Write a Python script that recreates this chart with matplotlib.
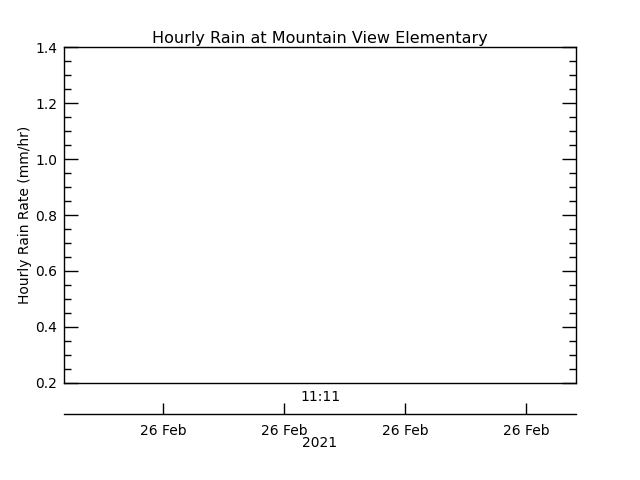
import matplotlib
matplotlib.use("Agg")
import matplotlib.pyplot as plt
from matplotlib.ticker import MultipleLocator

title = "Hourly Rain at Mountain View Elementary"
ylabel = "Hourly Rain Rate (mm/hr)"
y_min, y_max = 0.2, 1.4
y_major = 0.2
y_minor = 0.05
center_label = "11:11"
date_ticks = [0.818, 1.818, 2.818, 3.818]
date_labels = ["26 Feb", "26 Feb", "26 Feb", "26 Feb"]
x_min, x_max = 0.0, 4.23
year_label = "2021"

plt.rcParams['font.family'] = ['DejaVu Sans']
fig = plt.figure(figsize=(6.4, 4.8), dpi=100)
W, H = 640, 480
L, R, T, B = 64, 576, 47, 383
ax = fig.add_axes([L / W, 1 - B / H, (R - L) / W, (B - T) / H])
ax.set_ylim(y_min, y_max)
ax.set_xlim(x_min, x_max)
ax.yaxis.set_minor_locator(MultipleLocator(y_minor))
ax.set_yticks([round(y_min + i * y_major, 1) for i in range(7)])
ax.set_yticklabels([f"{y_min + i * y_major:.1f}" for i in range(7)])
ax.tick_params(axis='y', which='major', direction='in', length=10, width=1,
               right=True, left=True, labelsize=10, pad=5)
ax.tick_params(axis='y', which='minor', direction='in', length=5, width=1,
               right=True, left=True)
ax.set_xticks([])
for s in ax.spines.values():
    s.set_linewidth(1)
ax.set_title(title, fontsize=11.5, pad=3)
ax.set_ylabel(ylabel, fontsize=10, labelpad=2)
fig.text(0.5, 1 - 397 / H, center_label, ha='center', va='center', fontsize=10)

# date axis
yb = 414
ax2 = fig.add_axes([L / W, 1 - yb / H, (R - L) / W, 0.0001])
ax2.set_xlim(x_min, x_max)
for k in ['top', 'left', 'right']:
    ax2.spines[k].set_visible(False)
ax2.spines['bottom'].set_linewidth(1)
ax2.set_yticks([])
ax2.set_xticks(date_ticks)
ax2.set_xticklabels(date_labels)
ax2.tick_params(axis='x', direction='in', length=8, width=1, labelsize=10, pad=7)
fig.text(0.5, 1 - 443 / H, year_label, ha='center', va='center', fontsize=10)

fig.savefig("out.png", dpi=100)
